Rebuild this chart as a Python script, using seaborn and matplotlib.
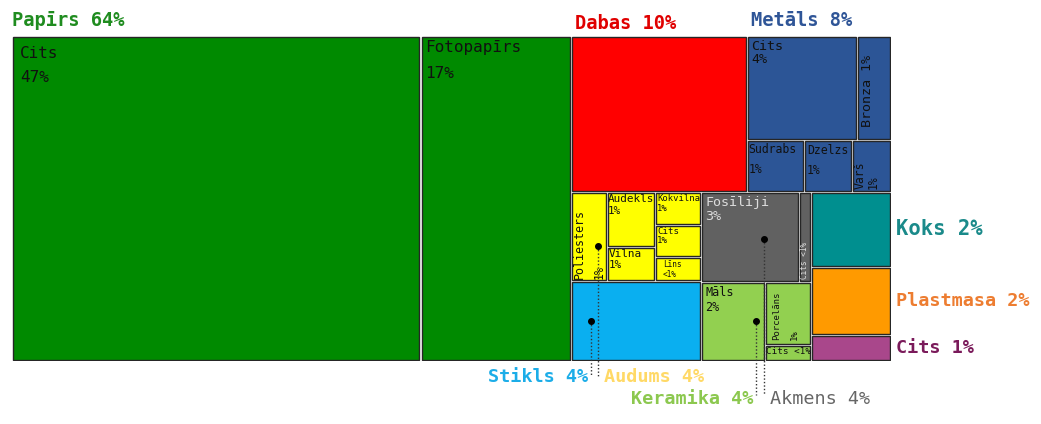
import matplotlib
matplotlib.use("Agg")
import matplotlib.pyplot as plt
from matplotlib.patches import Rectangle
import seaborn as sns

# ---------- data: top-level material groups ----------
groups = ["Papīrs", "Dabas", "Metāls", "Audums", "Stikls",
          "Akmens", "Keramika", "Koks", "Plastmasa", "Cits"]
group_labels = ["Papīrs 64%", "Dabas 10%", "Metāls 8%", "Audums 4%", "Stikls 4%",
                "Akmens 4%", "Keramika 4%", "Koks 2%", "Plastmasa 2%", "Cits 1%"]
group_colors = ["#008a00", "#ff0000", "#2c5596", "#ffff00", "#0aaff0",
                "#616161", "#92d050", "#008f8f", "#ff9a00", "#a9478b"]
label_colors = ["#1f8c1f", "#e00000", "#2f5597", "#ffd966", "#1cade8",
                "#666666", "#8cc84f", "#1a8a8a", "#ed7d31", "#7a1a5a"]

# ---------- data: sub-categories (share of total, %) ----------
papirs_names = ["Cits", "Fotopapīrs"]
papirs_values = [46.4, 17.1]
papirs_pct = ["47%", "17%"]

dabas_values = [9.6]

metals_names = ["Cits", "Bronza", "Sudrabs", "Dzelzs", "Varš"]
metals_values = [4.0, 1.24, 1.02, 0.86, 0.71]
metals_pct = ["4%", "1%", "1%", "1%", "1%"]

audums_names = ["Poliesters", "Audekls", "Vilna", "Kokvilna", "Cits", "Līns"]
audums_values = [1.11, 0.93, 0.57, 0.54, 0.51, 0.39]
audums_pct = ["1%", "1%", "1%", "1%", "1%", "<1%"]

stikls_values = [3.64]

akmens_names = ["Fosīliji", "Cits"]
akmens_values = [3.08, 0.37]
akmens_pct = ["3%", "<1%"]

keramika_names = ["Māls", "Porcelāns", "Cits"]
keramika_values = [1.77, 1.0, 0.26]
keramika_pct = ["2%", "1%", "<1%"]

koks_values = [2.1]
plastmasa_values = [1.9]
cits_values = [0.73]

children = {
    "Papīrs": (papirs_names, papirs_values, papirs_pct),
    "Dabas": (None, dabas_values, None),
    "Metāls": (metals_names, metals_values, metals_pct),
    "Audums": (audums_names, audums_values, audums_pct),
    "Stikls": (None, stikls_values, None),
    "Akmens": (akmens_names, akmens_values, akmens_pct),
    "Keramika": (keramika_names, keramika_values, keramika_pct),
    "Koks": (None, koks_values, None),
    "Plastmasa": (None, plastmasa_values, None),
    "Cits": (None, cits_values, None),
}

# ---------- styling of leaf labels: (fontsize, rotation, separator, pad x, pad y, linespacing)
leaf_style = {
    "Papīrs": [(11.5, 0, "\n", 7, 9, 1.75), (11.5, 0, "\n", 3, 3, 1.9)],
    "Metāls": [(9.6, 0, "\n", 3, 3, 1.0), (9.6, 90, " ", 3, 12, 1.0),
               (8.3, 0, "\n", 0, 2, 1.65), (8.3, 0, "\n", 2, 3, 1.65), (8.3, 90, "\n", 1, 2, 1.0)],
    "Audums": [(8.4, 90, "\n", 1, 1, 1.6), (7.9, 0, "\n", 0, 1, 1.3), (7.9, 0, "\n", 1, 1, 1.1),
               (6.4, 0, "\n", 1, 1, 1.1), (6.6, 0, "\n", 1, 1, 0.9), (5.6, 0, "\n", 7, 2, 1.1)],
    "Akmens": [(9.6, 0, "\n", 3, 3, 1.1), (5.6, 90, " ", 0, 2, 1.0)],
    "Keramika": [(8.5, 0, "\n", 3, 3, 1.2), (6.5, 90, "\n", 6, 4, 2.2), (6.7, 0, " ", 0, 1, 1.0)],
}
leaf_text_color = {"Akmens": "#dddddd"}
# fixed column grouping (stacked columns, left to right)
column_override = {"Audums": [1, 2, 3]}

# external group labels
# top/right: (kind, dx, dy, fontsize)
# below: (kind, leader dx, dot dy, fontsize, leader end y, align, text dy)
group_label_place = {
    "Papīrs": ("top", 0, -10, 13.5),
    "Dabas": ("top", 4, -7, 13.5),
    "Metāls": ("top", 4, -10, 13.5),
    "Koks": ("right", 5, 0, 14.8),
    "Plastmasa": ("right", 5, 0, 13.3),
    "Cits": ("right", 5, 0, 13.3),
    "Stikls": ("below", 20, 0, 13.3, 340, "right", 1),
    "Audums": ("below", 27, 10, 13.3, 340, "left", 1),
    "Keramika": ("below", 55, 0, 13.3, 359, "right", 4),
    "Akmens": ("below", 63, 2, 13.3, 359, "left", 4),
}

PHI = (1 + 5 ** 0.5) / 2
W, H = 879, 325


def squarify(values, x0, y0, x1, y1, columns=None):
    # d3-style squarified tiling with golden ratio
    out = []
    total = sum(values)
    i0, n, r = 0, len(values), 0
    while i0 < n:
        dx, dy = x1 - x0, y1 - y0
        if columns is not None:
            i1 = i0 + columns[r]
            r += 1
        else:
            alpha = max(dy / dx, dx / dy) / (total * PHI)
            s = lo = hi = values[i0]
            beta = s * s * alpha
            worst = max(hi / beta, beta / lo)
            i1 = i0 + 1
            while i1 < n:
                v = values[i1]
                s2 = s + v
                beta = s2 * s2 * alpha
                new = max(max(hi, v) / beta, beta / min(lo, v))
                if new > worst:
                    break
                s, worst, lo, hi = s2, new, min(lo, v), max(hi, v)
                i1 += 1
        row = values[i0:i1]
        s = sum(row)
        if dx < dy and columns is None:
            yb = y0 + dy * s / total
            x = x0
            for v in row:
                w = dx * v / s
                out.append((x, y0, w, yb - y0))
                x += w
            y0 = yb
        else:
            xb = x0 + dx * s / total
            y = y0
            for v in row:
                h = dy * v / s
                out.append((x0, y, xb - x0, h))
                y += h
            x0 = xb
        total -= s
        i0 = i1
    return out


sns.set_theme(style="white")
plt.rcParams["font.family"] = ["DejaVu Sans Mono", "DejaVu Sans"]

fig = plt.figure(figsize=(10.41, 4.24), dpi=100)
ax = fig.add_axes([12 / 1041, (424 - 361) / 424, W / 1041, H / 424])
ax.set_xlim(0, W)
ax.set_ylim(H, 0)
ax.axis("off")

group_values = [sum(children[g][1]) for g in groups]
group_rects = squarify(group_values, 0, 0, W, H)
gap = 1.1

for g, (gx, gy, gw, gh), color, lab, lcol in zip(groups, group_rects, group_colors,
                                                 group_labels, label_colors):
    names, vals, pcts = children[g]
    leaves = squarify(vals, gx, gy, gx + gw, gy + gh, column_override.get(g))
    for i, (lx, ly, lw, lh) in enumerate(leaves):
        ax.add_patch(Rectangle((lx + gap, ly + gap), lw - 2 * gap, lh - 2 * gap,
                               facecolor=color, edgecolor="#262626", linewidth=1.0))
        if names is None:
            continue
        fs, rot, sep, px, py, ls = leaf_style[g][i]
        txt = names[i] + sep + pcts[i]
        tcol = leaf_text_color.get(g, "#111111")
        if rot:
            ax.text(lx + gap + px, ly + lh - gap - py, txt, rotation=90,
                    rotation_mode="anchor", ha="left", va="top", fontsize=fs,
                    color=tcol, linespacing=ls)
        else:
            ax.text(lx + gap + px, ly + gap + py, txt, ha="left", va="top",
                    fontsize=fs, color=tcol, linespacing=ls)

    place = group_label_place[g]
    kind = place[0]
    weight = "normal" if g == "Akmens" else "bold"
    if kind == "top":
        ax.text(gx + place[1], gy + place[2], lab, ha="left", va="baseline",
                fontsize=place[3], color=lcol, fontweight=weight, clip_on=False)
    elif kind == "right":
        ax.text(gx + gw + place[1], gy + gh / 2, lab, ha="left", va="center",
                fontsize=place[3], color=lcol, fontweight=weight, clip_on=False)
    else:
        lx = gx + place[1]
        dot_y = gy + gh / 2 + place[2]
        end_y = place[4]
        ax.plot([lx, lx], [dot_y, end_y], linestyle=(0, (1, 1.5)), color="#333333",
                linewidth=1.0, clip_on=False)
        ax.plot([lx], [dot_y], "o", markersize=4, color="black", clip_on=False)
        if place[5] == "right":
            ax.text(lx - 3, end_y + place[6], lab, ha="right", va="center",
                    fontsize=place[3], color=lcol, fontweight=weight, clip_on=False)
        else:
            ax.text(lx + 6, end_y + place[6], lab, ha="left", va="center",
                    fontsize=place[3], color=lcol, fontweight=weight, clip_on=False)

fig.savefig("out.png", dpi=100)
